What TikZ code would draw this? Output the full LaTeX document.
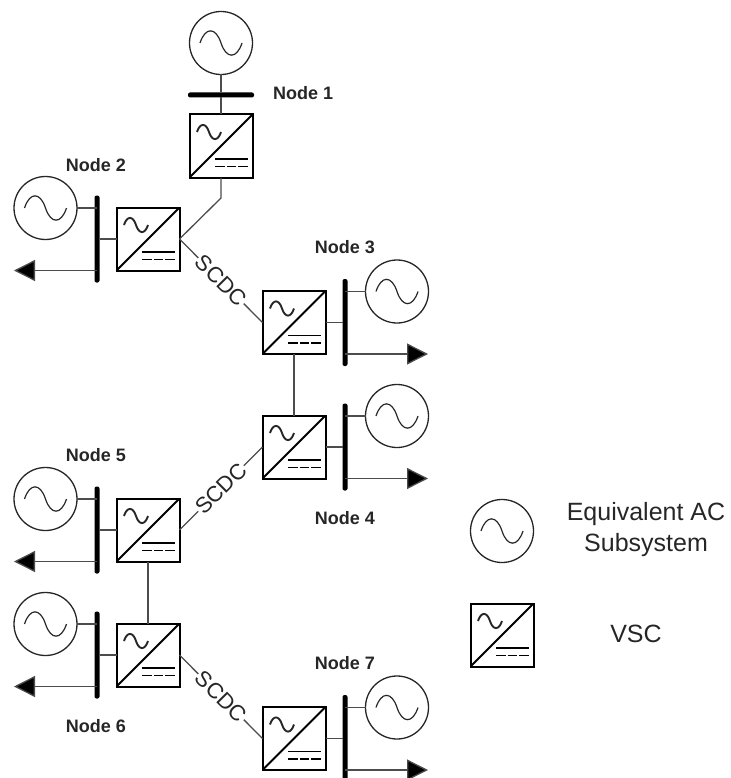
\documentclass[tikz,border=0pt]{standalone}
\usepackage{fontspec}
\setmainfont{Liberation Sans}
\usetikzlibrary{arrows.meta,positioning}

\newcommand{\acwave}[5]{\draw[line width=#5, black!85, sharp corners] (#1-#3,#2) .. controls (#1-0.75*#3,#2-1.35*#4) and (#1-0.25*#3,#2-1.35*#4) .. (#1,#2) .. controls (#1+0.25*#3,#2+1.35*#4) and (#1+0.75*#3,#2+1.35*#4) .. (#1+#3,#2);}

\begin{document}
\begin{tikzpicture}[x=1pt, y=-1pt,
  gen/.style={draw=black!85, circle, line width=1.3pt, minimum size=63pt, inner sep=0pt, outer sep=0pt,
    path picture={\begin{scope}[shift={(path picture bounding box.center)}]\acwave{0}{0}{21}{12}{1.2pt}\end{scope}}},
  vsc/.style={draw, rectangle, line width=2pt, minimum size=63pt, inner sep=0pt, outer sep=0pt,
    path picture={\begin{scope}[shift={(path picture bounding box.center)}]
      \draw[line width=2pt, sharp corners] (-32,32) -- (32,-32);
      \acwave{-12}{-14}{12}{7}{1.9pt}
      \draw[line width=1.7pt, sharp corners] (-6,13) -- (27,13);
      \draw[line width=1.7pt, sharp corners, dash pattern=on 9.5pt off 2.2pt] (-6,20.5) -- (27,20.5);
    \end{scope}}},
  busv/.style={fill=black, rectangle, rounded corners=2pt, minimum width=5pt, minimum height=87pt, inner sep=0pt, outer sep=0pt},
  bush/.style={fill=black, rectangle, rounded corners=2pt, minimum width=66pt, minimum height=5pt, inner sep=0pt, outer sep=0pt},
  conn/.style={line width=1.3pt, black!70},
  load/.style={line width=1.3pt, black!70, -{Triangle[length=21pt, width=21pt, fill=black]}},
  lab/.style={font=\bfseries\fontsize{18}{20}\selectfont, text=black!85, inner sep=0pt},
  scdc/.style={font=\fontsize{22}{24}\selectfont, text=black!85, fill=white, inner sep=1pt, sloped},
  leg/.style={font=\fontsize{25}{31}\selectfont, text=black!85, align=center, inner sep=0pt}
]
\useasboundingbox (0,0) rectangle (730,778);

% converters
\node[vsc] (v1) at (221,146) {};
\node[vsc] (v2) at (148,239) {};
\node[vsc] (v3) at (294,322.5) {};
\node[vsc] (v4) at (294,447) {};
\node[vsc] (v5) at (148,530) {};
\node[vsc] (v6) at (148,655) {};
\node[vsc] (v7) at (294,738.5) {};

% buses
\node[bush, above=17pt of v1] (b1) {};
\node[busv, left=17pt of v2] (b2) {};
\node[busv, right=17pt of v3] (b3) {};
\node[busv, right=17pt of v4] (b4) {};
\node[busv, left=17pt of v5] (b5) {};
\node[busv, left=17pt of v6] (b6) {};
\node[busv, right=17pt of v7] (b7) {};

% sources
\node[gen, above=18pt of b1] (g1) {};
\node[gen, left=17.5pt of b2, yshift=31pt] (g2) {};
\node[gen, right=18pt of b3, yshift=31pt] (g3) {};
\node[gen, right=18pt of b4, yshift=31pt] (g4) {};
\node[gen, left=17.5pt of b5, yshift=31pt] (g5) {};
\node[gen, left=17.5pt of b6, yshift=31pt] (g6) {};
\node[gen, right=18pt of b7, yshift=31pt] (g7) {};

% load ends
\coordinate (l2) at (14,271);
\coordinate (l3) at (428,354);
\coordinate (k1) at (221,198);

% labels
\node[lab, right=19pt of b1, yshift=2pt] (n1) {Node 1};
\node[lab, above=24pt of b2, xshift=-1pt] (n2) {Node 2};
\node[lab, above=25pt of b3] (n3) {Node 3};
\node[lab, below=21pt of b4] (n4) {Node 4};
\node[lab, above=25pt of b5, xshift=-1pt] (n5) {Node 5};
\node[lab, below=21pt of b6, xshift=-1pt] (n6) {Node 6};
\node[lab, above=25pt of b7] (n7) {Node 7};

% AC side
\draw[conn] (g1) -- (b1);
\draw[conn] (b1) -- (v1);
\draw[conn] (g2) -- (g2 -| b2);
\draw[conn] (b2) -- (v2);
\draw[load] (v2.south -| b2) -- (v2.south -| l2);
\draw[conn] (g3) -- (g3 -| b3);
\draw[conn] (b3) -- (v3);
\draw[load] (v3.south -| b3) -- (v3.south -| l3);
\draw[conn] (g4) -- (g4 -| b4);
\draw[conn] (b4) -- (v4);
\draw[load] (v4.south -| b4) -- (v4.south -| l3);
\draw[conn] (g5) -- (g5 -| b5);
\draw[conn] (b5) -- (v5);
\draw[load] (v5.south -| b5) -- (v5.south -| l2);
\draw[conn] (g6) -- (g6 -| b6);
\draw[conn] (b6) -- (v6);
\draw[load] (v6.south -| b6) -- (v6.south -| l2);
\draw[conn] (g7) -- (g7 -| b7);
\draw[conn] (b7) -- (v7);
\draw[load] (v7.south -| b7) -- (v7.south -| l3);

% DC side
\draw[conn] (v1) -- (k1) -- (v2.east);
\draw[conn] (v2.east) -- node[scdc] {SCDC} (v3.west);
\draw[conn] (v3) -- (v4);
\draw[conn] (v4.west) -- node[scdc] {SCDC} (v5.east);
\draw[conn] (v5) -- (v6);
\draw[conn] (v6.east) -- node[scdc] {SCDC} (v7.west);

% legend
\node[gen] (g8) at (502,531) {};
\node[vsc] (v8) at (502,635) {};
\node[leg] (t8) at (646,530) {Equivalent AC\\Subsystem};
\node[leg] (t9) at (636,634) {VSC};
\end{tikzpicture}
\end{document}
